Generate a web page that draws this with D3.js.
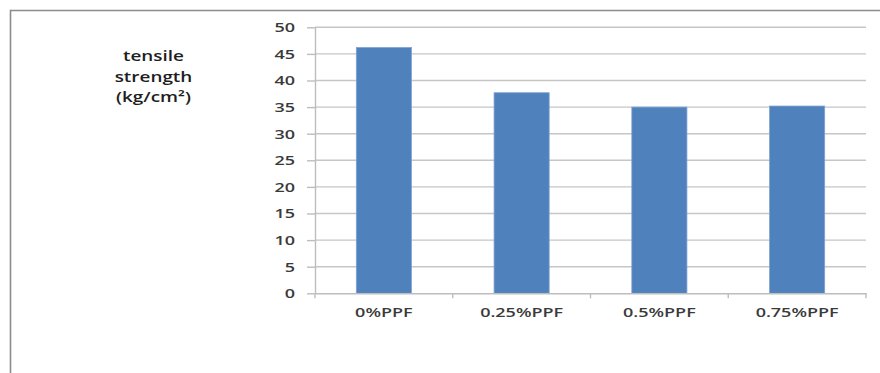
<!DOCTYPE html>
<html>
<head>
<meta charset="utf-8">
<script src="https://cdn.jsdelivr.net/npm/d3@7"></script>
<style>
  html, body { margin: 0; padding: 0; background: #fff; }
  svg { display: block; }
  text { font-family: "Open Sans", "DejaVu Sans", sans-serif; font-weight: 600; }
</style>
</head>
<body>
<script>
// Tensile strength by polypropylene fibre (PPF) content
const categories = ["0%PPF", "0.25%PPF", "0.5%PPF", "0.75%PPF"];
const strengthValues = [46.2, 37.7, 35.0, 35.2];
const yTickValues = [0, 5, 10, 15, 20, 25, 30, 35, 40, 45, 50];
const titleLines = ["tensile", "strength", "(kg/cm\u00B2)"];

const W = 880, H = 373;
const plot = { left: 315, right: 866, top: 27.3, bottom: 293.3 };
const stretch = 1.5;      // wide lettering for tick labels
const titleStretch = 1.35;

const svg = d3.select("body").append("svg")
  .attr("width", W).attr("height", H);

// outer chart frame (top and left edges)
svg.append("path")
  .attr("d", `M10.5,${H} L10.5,10.5 L${W},10.5`)
  .attr("fill", "none")
  .attr("stroke", "#8c8c8c")
  .attr("stroke-width", 1.6);

const x = d3.scaleBand()
  .domain(categories)
  .range([plot.left, plot.right])
  .paddingInner(0.6)
  .paddingOuter(0.3);

const y = d3.scaleLinear()
  .domain([0, 50])
  .range([plot.bottom, plot.top]);

// horizontal gridlines
svg.append("g")
  .selectAll("line")
  .data(yTickValues.filter(v => v > 0))
  .join("line")
  .attr("x1", plot.left).attr("x2", plot.right)
  .attr("y1", d => y(d)).attr("y2", d => y(d))
  .attr("stroke", "#c6c6c6")
  .attr("stroke-width", 1.4);

// bars
svg.append("g")
  .selectAll("rect")
  .data(categories.map((c, i) => ({ c, v: strengthValues[i] })))
  .join("rect")
  .attr("x", d => x(d.c))
  .attr("width", x.bandwidth())
  .attr("y", d => y(d.v))
  .attr("height", d => y(0) - y(d.v))
  .attr("fill", "#4f81bd")
  .attr("stroke", "#7ea3d0")
  .attr("stroke-width", 0.8);

// y axis
const yAxis = svg.append("g")
  .attr("transform", `translate(${plot.left},0)`)
  .call(d3.axisLeft(y).tickValues(yTickValues).tickSize(8).tickPadding(0).tickSizeOuter(0));
yAxis.select(".domain").attr("stroke", "#bdbdbd").attr("stroke-width", 1.4);
yAxis.selectAll(".tick line").attr("stroke", "#bdbdbd").attr("stroke-width", 1.4);
yAxis.selectAll(".tick text")
  .attr("x", -20 / stretch)
  .attr("dy", "0.36em")
  .attr("transform", `scale(${stretch},1)`)
  .attr("fill", "#3a3a3a")
  .style("font-size", "12px");

// x axis with boundary ticks
const xAxis = svg.append("g")
  .attr("transform", `translate(0,${plot.bottom})`)
  .call(d3.axisBottom(x).tickSize(0).tickPadding(0));
xAxis.select(".domain").attr("stroke", "#bdbdbd").attr("stroke-width", 1.4);
xAxis.selectAll(".tick line").remove();
xAxis.selectAll(".tick text")
  .attr("y", 24)
  .attr("dy", 0)
  .attr("transform", `scale(${stretch},1)`)
  .attr("fill", "#3a3a3a")
  .style("font-size", "12px");
const boundaries = [plot.left].concat(categories.map(c => x(c) - x.step() * x.paddingInner() / 2 + x.step()));
boundaries[boundaries.length - 1] = plot.right;
xAxis.append("g")
  .selectAll("line")
  .data(boundaries)
  .join("line")
  .attr("x1", d => d).attr("x2", d => d)
  .attr("y1", 0).attr("y2", 5)
  .attr("stroke", "#bdbdbd")
  .attr("stroke-width", 1.4);

// axis title, three centred lines
const title = svg.append("g")
  .attr("transform", "translate(153.5,0)");
title.selectAll("text")
  .data(titleLines)
  .join("text")
  .attr("transform", (d, i) => `translate(0,${61 + i * 20.5}) scale(${titleStretch},1)`)
  .attr("text-anchor", "middle")
  .attr("fill", "#1e1e1e")
  .style("font-size", "14px")
  .text(d => d);
</script>
</body>
</html>
